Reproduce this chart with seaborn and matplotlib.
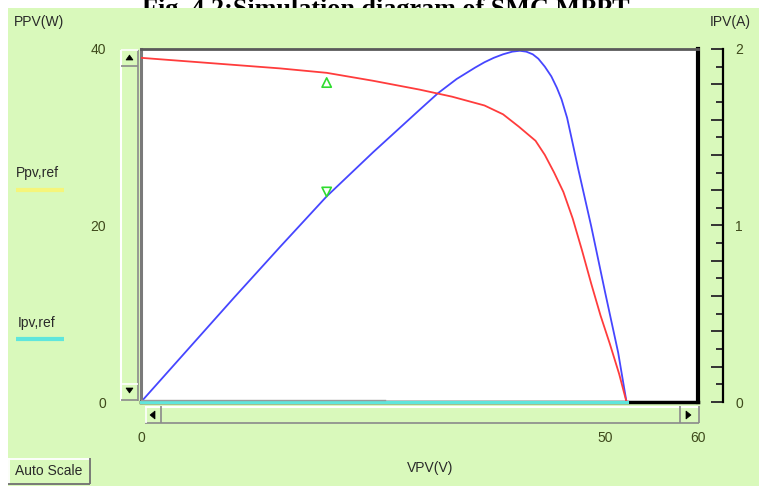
import numpy as np
import matplotlib
matplotlib.use("Agg")
import matplotlib.pyplot as plt
import seaborn as sns
from matplotlib.patches import Rectangle, Polygon
from matplotlib.lines import Line2D
from matplotlib.ticker import MultipleLocator, FuncFormatter

# ---------------- data ----------------
v_p = [0, 5, 10, 15, 20, 25, 30, 32, 34, 36, 37, 38, 39, 40, 40.8, 41.5, 42.2,
       42.8, 43.5, 44.2, 44.8, 45.3, 45.9, 46.4, 47.1, 48.5, 50, 51.4, 52.3]
p_pv = [0, 5.9, 11.8, 17.6, 23.3, 28.3, 33.1, 35.0, 36.6, 37.9, 38.5, 39.0, 39.4,
        39.7, 39.8, 39.7, 39.4, 38.9, 38.0, 36.9, 35.6, 34.3, 32.2, 29.8, 26.4,
        19.9, 12.4, 5.6, 0]

v_i = [0, 5, 10, 15, 20, 25, 30, 33.5, 37, 39, 40.7, 41.6, 42.5, 43.5, 44.5,
       45.5, 46.5, 47.5, 48.5, 49.5, 50.5, 51.5, 52.3]
i_pv = [1.95, 1.93, 1.91, 1.89, 1.865, 1.82, 1.77, 1.73, 1.68, 1.63, 1.56, 1.52,
        1.48, 1.40, 1.30, 1.19, 1.04, 0.86, 0.67, 0.49, 0.33, 0.16, 0]

ipv_ref_v = [0, 52.3]
ipv_ref = [0, 0]
ppv_ref_v = [0, 26.3]
ppv_ref = [0.012, 0.012]

cursor_v = [20]
cursor_i = [1.81]
cursor_p = [23.8]

x_ticks = [0, 50, 60]
left_ticks = [0, 20, 40]
right_ticks = [0, 1, 2]

title = "Fig. 4.2:Simulation diagram of SMC MPPT"
left_title = "PPV(W)"
right_title = "IPV(A)"
x_title = "VPV(V)"
legend_labels = ["Ppv,ref", "Ipv,ref"]

# ---------------- style ----------------
GREEN = "#d9f9bb"
RED = "#ff3c3c"
BLUE = "#4646ff"
CYAN = "#5fe6dc"
YELLOW = "#f5f57a"
MARK = "#2fdc2f"
TXT = "#2a2a2a"
TICKC = "#3f4a1c"

W, H = 759, 486
fig = plt.figure(figsize=(W / 100, H / 100), dpi=100)
fig.patch.set_facecolor("white")
plt.rcParams["font.family"] = ["Liberation Sans", "DejaVu Sans"]


def fx(x):
    return x / W


def fy(y):
    return 1 - y / H


def rect(x0, y0, x1, y1, fc, z=-1, ec="none", lw=0):
    r = Rectangle((fx(x0), fy(y1)), fx(x1) - fx(x0), fy(y0) - fy(y1),
                  transform=fig.transFigure, facecolor=fc, edgecolor=ec,
                  linewidth=lw, zorder=z)
    fig.add_artist(r)


def line(x0, y0, x1, y1, c, lw=1, z=5):
    fig.add_artist(Line2D([fx(x0), fx(x1)], [fy(y0), fy(y1)], color=c, lw=lw,
                          transform=fig.transFigure, zorder=z,
                          solid_capstyle="butt"))


def tri(pts, c="black", z=6):
    fig.add_artist(Polygon([(fx(a), fy(b)) for a, b in pts], closed=True,
                           transform=fig.transFigure, facecolor=c,
                           edgecolor=c, lw=0.5, zorder=z))


# title (partially covered by the green panel, as in the reference)
fig.text(fx(386), fy(16), title, ha="center", va="baseline", fontsize=18.8,
         fontweight="bold", family="Liberation Serif", color="black", zorder=-2)
# green panel
rect(8, 8, W, H, GREEN, z=-1)

# ---------------- main axes ----------------
L, R, T, B = 141, 698, 49, 402
ax = fig.add_axes([fx(L), fy(B), (R - L) / W, (B - T) / H])
ax.set_facecolor("white")
sns.lineplot(x=v_p, y=p_pv, ax=ax, color=BLUE, linewidth=1.3, sort=False,
             estimator=None)
sns.scatterplot(x=cursor_v, y=cursor_p, ax=ax, marker="v", s=45,
                facecolor="none", edgecolor=MARK, linewidth=1.2, zorder=5)
ax.set_xlim(0, 60)
ax.set_ylim(0, 40)
ax.set_xticks(x_ticks)
ax.set_yticks(left_ticks)
ax.tick_params(axis="x", length=0, pad=21, labelsize=10, labelcolor=TICKC)
ax.tick_params(axis="y", length=0, pad=25, labelsize=10, labelcolor=TICKC)
ax.set_xlabel("")
ax.set_ylabel("")
ax.spines["left"].set_color("#7a7a7a")
ax.spines["left"].set_linewidth(2.2)
ax.spines["top"].set_color("#5a5a5a")
ax.spines["top"].set_linewidth(2.0)
ax.spines["right"].set_color("black")
ax.spines["right"].set_linewidth(3.0)
ax.spines["bottom"].set_color("black")
ax.spines["bottom"].set_linewidth(2.5)

# ---------------- right (current) axis ----------------
ax2 = ax.twinx()
sns.lineplot(x=v_i, y=i_pv, ax=ax2, color=RED, linewidth=1.3, sort=False,
             estimator=None)
sns.lineplot(x=ipv_ref_v, y=ipv_ref, ax=ax2, color=CYAN, linewidth=2.2,
             sort=False, estimator=None, clip_on=False, zorder=6)
sns.lineplot(x=ppv_ref_v, y=ppv_ref, ax=ax2, color="#9a9a9a", linewidth=1.0,
             sort=False, estimator=None, clip_on=False, zorder=6)
sns.scatterplot(x=cursor_v, y=cursor_i, ax=ax2, marker="^", s=45,
                facecolor="none", edgecolor=MARK, linewidth=1.2, zorder=5)
ax2.set_ylim(0, 2)
ax2.set_xlim(0, 60)
ax2.set_ylabel("")
for s in ["left", "top", "bottom"]:
    ax2.spines[s].set_visible(False)
ax2.spines["right"].set_position(("outward", 18))
ax2.spines["right"].set_color("black")
ax2.spines["right"].set_linewidth(1.6)
ax2.yaxis.set_major_locator(MultipleLocator(0.2))
ax2.yaxis.set_minor_locator(MultipleLocator(0.1))
ax2.yaxis.set_major_formatter(
    FuncFormatter(lambda v, p: f"{int(round(v))}" if abs(v - round(v)) < 1e-6 and round(v) in right_ticks else ""))
ax2.tick_params(axis="y", which="major", direction="in", length=9, width=1.4,
                color="#333333", pad=9, labelsize=10, labelcolor=TICKC)
ax2.tick_params(axis="y", which="minor", direction="in", length=5, width=1.4,
                color="#333333")

# ---------------- scrollbars ----------------
# vertical
rect(121, 50, 138, 401, GREEN, z=4)
line(120.5, 50, 120.5, 401, "white", lw=1.5)
line(138, 50, 138, 401, "#8a8a8a", lw=1.2)
for (y0, y1) in [(50, 66), (383, 400)]:
    line(121, y0 + 0.5, 138, y0 + 0.5, "white", lw=1.2)
    line(121, y1, 138, y1, "#8a8a8a", lw=1.2)
tri([(126, 60), (133, 60), (129.5, 55)])
tri([(126, 388), (133, 388), (129.5, 393)])
# horizontal
rect(145, 406, 699, 423, GREEN, z=4)
line(145, 406.5, 699, 406.5, "white", lw=1.5)
line(145, 423, 699, 423, "#8a8a8a", lw=1.2)
line(699, 406, 699, 423, "#8a8a8a", lw=1.2)
line(145.5, 406, 145.5, 423, "white", lw=1.2)
line(161, 406, 161, 423, "#8a8a8a", lw=1.2)
line(680, 406, 680, 423, "#8a8a8a", lw=1.2)
tri([(155, 411), (155, 419), (150, 415)])
tri([(686, 411), (686, 419), (691, 415)])

# ---------------- texts ----------------
fig.text(fx(14), fy(22), left_title, ha="left", va="center", fontsize=10, color=TXT)
fig.text(fx(710), fy(22), right_title, ha="left", va="center", fontsize=10, color=TXT)
fig.text(fx(430), fy(468), x_title, ha="center", va="center", fontsize=10, color=TXT)

fig.text(fx(16), fy(173), legend_labels[0], ha="left", va="center", fontsize=10, color=TXT)
line(16, 190, 64, 190, YELLOW, lw=3)
fig.text(fx(18), fy(323), legend_labels[1], ha="left", va="center", fontsize=10, color=TXT)
line(16, 339, 64, 339, CYAN, lw=3)

# Auto Scale button
rect(8, 458, 90, 484, GREEN, z=4)
line(8, 458.5, 90, 458.5, "white", lw=1.3)
line(8.5, 458, 8.5, 484, "white", lw=1.3)
line(8, 484, 90, 484, "#707070", lw=1.3)
line(90, 458, 90, 484, "#707070", lw=1.3)
fig.text(fx(49), fy(471), "Auto Scale", ha="center", va="center", fontsize=10,
         color=TXT, zorder=7)

fig.savefig("out.png", dpi=100, facecolor=fig.get_facecolor())
